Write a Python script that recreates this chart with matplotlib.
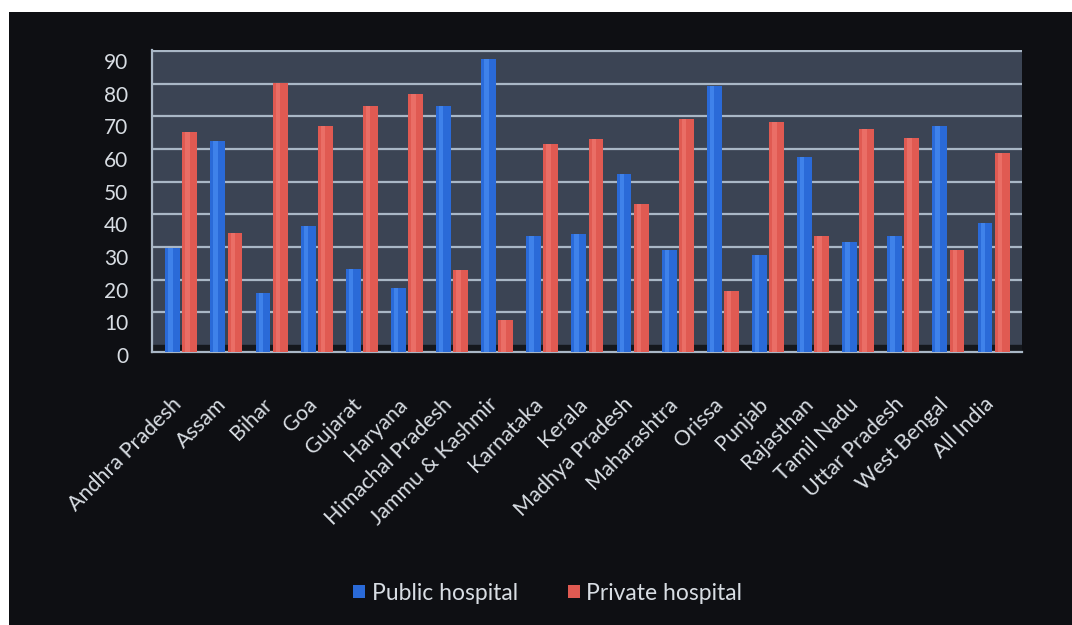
import matplotlib.pyplot as plt
import matplotlib.transforms as mtransforms
from matplotlib.patches import Rectangle
import numpy as np

states = ["Andhra Pradesh", "Assam", "Bihar", "Goa", "Gujarat", "Haryana",
          "Himachal Pradesh", "Jammu & Kashmir", "Karnataka", "Kerala",
          "Madhya Pradesh", "Maharashtra", "Orissa", "Punjab", "Rajasthan",
          "Tamil Nadu", "Uttar Pradesh", "West Bengal", "All India"]
public = [32, 64.5, 18, 38.5, 25.5, 19.7, 75.5, 89.7, 35.6, 36,
          54.4, 31.2, 81.5, 29.7, 59.8, 33.7, 35.5, 69.2, 39.4]
private = [67.5, 36.3, 82.5, 69.2, 75.2, 78.9, 25, 9.7, 63.7, 65.2,
           45.3, 71.4, 18.7, 70.6, 35.6, 68.2, 65.4, 31.2, 61.1]
yticks = [0, 10, 20, 30, 40, 50, 60, 70, 80, 90]

plt.rcParams['font.family'] = ['Lato', 'DejaVu Sans']

fig = plt.figure(figsize=(10.72, 6.25), dpi=100, facecolor='white')
# dark scanned background (white strip left/top)
fig.patches.append(Rectangle((9 / 1072, 0), 1, 1 - 12 / 625, transform=fig.transFigure,
                             facecolor='#0e0f13', edgecolor='none', zorder=-10))

ax = fig.add_axes([152 / 1072, 1 - 352 / 625, 870 / 1072, 302 / 625])
ax.set_zorder(1)
ax.set_facecolor('#3b4454')

x = np.arange(len(states))
w = 0.33
off = 0.19
# back-wall gridlines sit a few pixels above the front of the floor
shift = mtransforms.ScaledTranslation(0, 7 / 100, fig.dpi_scale_trans)
for v in yticks[1:]:
    ax.plot([0, 1], [v, v], color='#a9b7c6', lw=1.6, zorder=1,
            transform=ax.get_yaxis_transform() + shift)
ax.axhspan(0, 2.2, color='#15181d', zorder=1)

ax.bar(x - off, public, w, color='#2a6ad8', zorder=3, label='Public hospital')
ax.bar(x + off, private, w, color='#e05a52', zorder=3, label='Private hospital')
# subtle highlight for a cylinder feel
ax.bar(x - off - 0.05, public, w * 0.3, color='#3f82ea', zorder=4)
ax.bar(x + off - 0.05, private, w * 0.3, color='#ea6e66', zorder=4)

ax.set_xlim(-0.65, len(states) - 1 + 0.63)
ax.set_ylim(0, 92.5)
ax.set_yticks(yticks)
ax.set_xticks(x)
ax.set_xticklabels(states, rotation=45, ha='right', va='top', rotation_mode='anchor')
ax.tick_params(axis='y', length=0, pad=17, labelsize=15, labelcolor='#d8dde3')
ax.tick_params(axis='x', length=0, pad=26, labelsize=15.5, labelcolor='#d8dde3')
for lab in ax.get_yticklabels():
    lab.set_transform(lab.get_transform() + mtransforms.ScaledTranslation(0, -3 / 100, fig.dpi_scale_trans))
for lab in ax.get_xticklabels():
    lab.set_transform(lab.get_transform() + mtransforms.ScaledTranslation(-10 / 100, -6 / 100, fig.dpi_scale_trans))

for s in ['top', 'right']:
    ax.spines[s].set_visible(False)
for s in ['left', 'bottom']:
    ax.spines[s].set_color('#a9b7c6')
    ax.spines[s].set_linewidth(1.6)

leg = fig.legend(loc='center', bbox_to_anchor=(0.511, 1 - 593 / 625), ncol=2,
                 frameon=False, fontsize=16.5, handlelength=0.5, handleheight=0.5,
                 columnspacing=2.2, handletextpad=0.3)
for t in leg.get_texts():
    t.set_color('#d8dde3')

fig.savefig('out.png', dpi=100, facecolor=fig.get_facecolor())
